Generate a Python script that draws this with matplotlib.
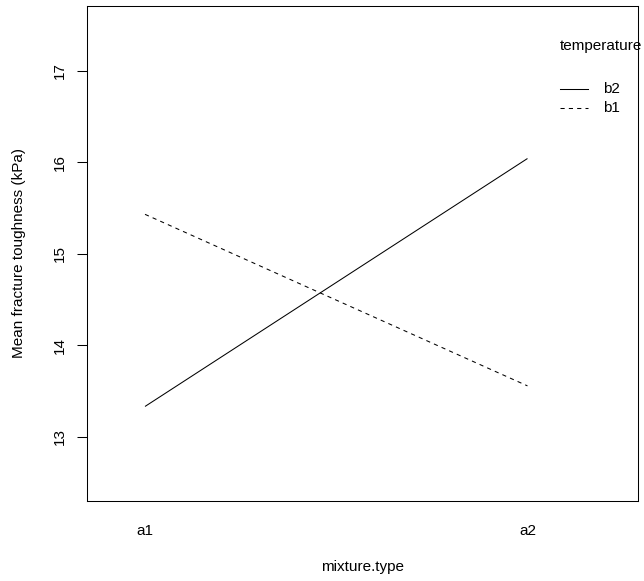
import matplotlib
matplotlib.use("Agg")
import matplotlib.pyplot as plt

plt.rcParams['font.family'] = ['Liberation Sans', 'DejaVu Sans']

# data
mixture_levels = ['a1', 'a2']
b2_means = [13.33, 16.04]
b1_means = [15.43, 13.555]
legend_labels = ['b2', 'b1']

W, H = 644, 581
FS = 11
fig = plt.figure(figsize=(W / 100, H / 100), dpi=100)
ax = fig.add_axes([86.5 / W, 1 - 500.7 / H, (638 - 86.5) / W, (500.7 - 6) / H])

xs = [1, 2]
ax.plot(xs, b2_means, color='black', lw=0.75, solid_capstyle='butt')
ax.plot(xs, b1_means, color='black', lw=0.75, linestyle=(0, (4, 4)))

ax.set_xlim(0.847, 2.289)
ax.set_ylim(12.30, 17.707)

ax.set_xticks(xs)
ax.set_xticklabels(mixture_levels, fontsize=FS)
ax.tick_params(axis='x', length=0, pad=17)
ax.set_yticks([13, 14, 15, 16, 17])
ax.set_yticklabels(['13', '14', '15', '16', '17'], rotation=90, va='center', fontsize=FS)
ax.tick_params(axis='y', length=7, width=0.75, pad=7)
for s in ax.spines.values():
    s.set_linewidth(0.75)

ax.set_xlabel('mixture.type', fontsize=FS)
ax.xaxis.set_label_coords(0.5, -(567 - 500.7) / 494.7)
ax.xaxis.label.set_va('center')
ax.set_ylabel('Mean fracture toughness (kPa)', fontsize=FS)
ax.yaxis.set_label_coords((19 - 86.5) / 551.5, 0.5)
ax.yaxis.label.set_va('center')

# legend in R style, placed by hand
fig.text(560 / W, 1 - 46 / H, 'temperature', fontsize=FS, va='center', ha='left')
for i, (lab, ls) in enumerate(zip(legend_labels, ['-', (0, (4, 4))])):
    y = 1 - (89 + 19 * i) / H
    fig.add_artist(plt.Line2D([560 / W, 588 / W], [y, y], color='black', lw=0.75,
                              linestyle=ls, transform=fig.transFigure))
    fig.text(603 / W, y, lab, fontsize=FS, va='center', ha='left')

fig.savefig('out.png', dpi=100)
